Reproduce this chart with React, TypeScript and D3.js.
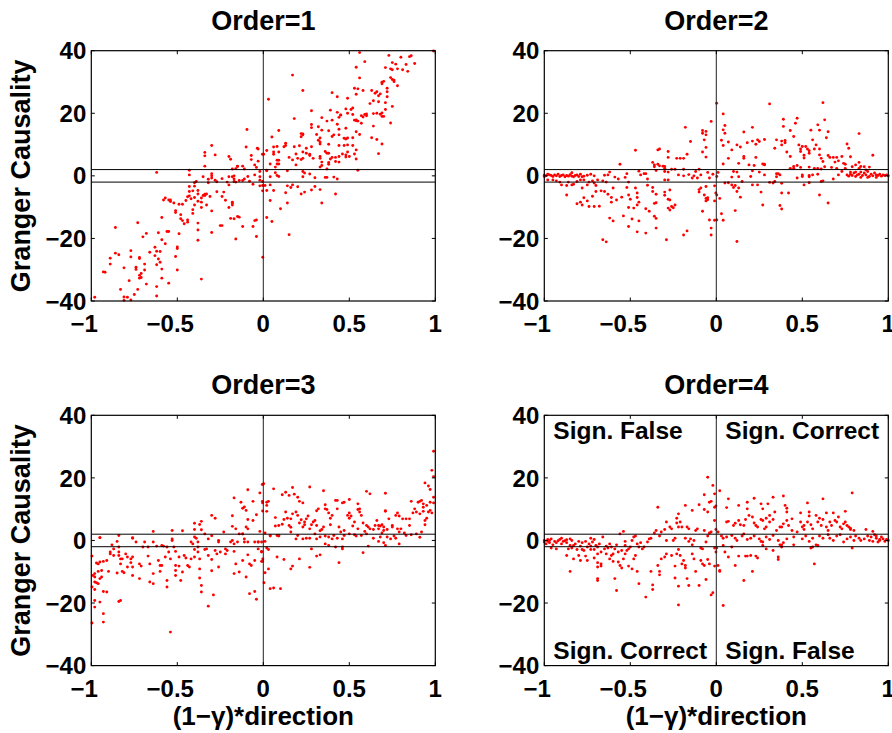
import React from "react";
import * as d3 from "d3";

// Granger causality vs (1-gamma)*direction, one array of [x, y] per model order
const order1: [number, number][] = [
  [-0.095,14.8],[-0.30,9.7],[-0.10,9.2],[-0.035,8.8],[-0.03,8.6],[-0.34,7.5],[-0.34,6.4],[-0.28,6.7],[-0.20,6.2],[-0.19,5.3],[-0.07,6.5],[-0.005,6.9],[-0.07,5.2],[-0.03,4.7],[-0.05,3.5],[-0.34,3.1],[-0.15,3.1],[-0.12,3.1],[-0.18,2.2],[-0.11,2.2],[-0.09,-0.2],[-0.05,0.3],[-0.43,1.8],[-0.43,0.3],[-0.62,1.1],[-0.30,0.7],[-0.30,0],[-0.30,-0.7],[-0.35,-0.3],[-0.32,-1.1],[-0.28,-1.4],[-0.24,-0.9],[-0.21,-2],[-0.20,-2.9],[-0.17,0],[-0.17,-1],[-0.17,-1.8],[-0.16,-2],[-0.14,-1.5],[-0.12,-1.5],[-0.11,-1],[-0.16,2.3],[-0.15,3],[-0.02,-0.3],[-0.02,-1.4],[-0.004,-1.8],[-0.004,-3.1],[-0.004,-4.8],[-0.08,-1.7],[-0.06,-2.7],[-0.40,-2.2],[-0.40,-3.3],[-0.39,-1.8],[-0.43,-3.4],[-0.43,-5],[-0.43,-6.4],[-0.41,-4.8],[-0.38,-4.7],[-0.38,-5.8],[-0.34,-5.9],[-0.34,-6.3],[-0.33,-5.8],[-0.31,-6.6],[-0.35,-6.3],[-0.36,-7.1],[-0.57,-7.1],[-0.58,-7.7],[-0.55,-7.7],[-0.54,-7.7],[-0.54,-8.2],[-0.52,-8.7],[-0.49,-9.1],[-0.47,-9.1],[-0.45,-7.9],[-0.44,-6.7],[-0.42,-7.3],[-0.40,-6.9],[-0.38,-8.1],[-0.36,-8.4],[-0.40,-9.3],[-0.33,-9.3],[-0.36,-10.1],[-0.30,-11.2],[-0.27,-5.1],[-0.24,-6.6],[-0.23,-5.2],[-0.22,-7.8],[-0.18,-8.4],[-0.18,-8.7],[-0.20,-10.1],[-0.18,-9.3],[-0.51,-11.1],[-0.51,-11.7],[-0.48,-12.4],[-0.47,-14.3],[-0.48,-13.7],[-0.44,-14.1],[-0.44,-14.8],[-0.46,-15.3],[-0.41,-10.8],[-0.41,-12],[-0.38,-15.1],[-0.38,-17.3],[-0.59,-13.3],[-0.30,-18.1],[-0.25,-15.9],[-0.24,-15.9],[-0.19,-13.6],[-0.17,-13.7],[-0.15,-13],[-0.14,-13.2],[-0.12,-16.2],[-0.05,-14.3],[-0.04,-14.1],[-0.06,-16.2],[-0.04,-19.4],[-0.16,-20.2],[-0.38,-20.6],[-0.55,-17.8],[-0.56,-17.8],[-0.61,-18.2],[-0.68,-18.4],[-0.70,-19.5],[-0.73,-15],[-0.86,-16.5],[-0.49,-18.5],[-0.59,-20.4],[-0.57,-21.7],[-0.66,-24.4],[-0.63,-22.8],[-0.62,-24.1],[-0.60,-24.2],[-0.63,-25.5],[-0.61,-26.6],[-0.60,-27.6],[-0.62,-28.4],[-0.50,-22.7],[-0.50,-23.2],[-0.51,-25.8],[-0.50,-30.1],[-0.59,-29.8],[-0.59,-32.7],[-0.55,-34.3],[-0.62,-35.4],[-0.62,-38.4],[-0.77,-23.9],[-0.77,-25.9],[-0.84,-25.2],[-0.86,-24.7],[-0.89,-26.3],[-0.89,-28.2],[-0.81,-29.4],[-0.74,-29.2],[-0.72,-26.1],[-0.72,-26.4],[-0.69,-28.2],[-0.69,-30.1],[-0.71,-31.2],[-0.72,-31.8],[-0.71,-32.5],[-0.72,-32.7],[-0.74,-29.9],[-0.68,-34.6],[-0.73,-36.3],[-0.75,-37.9],[-0.78,-33.5],[-0.83,-36.3],[-0.81,-38.7],[-0.79,-38.8],[-0.81,-39.8],[-0.77,-39.7],[-0.98,-38.8],[-0.93,-30.7],[-0.92,-30.8],[-0.36,-33],[-0.003,-26],[-0.02,1.4],[-0.02,-3.2],[-0.18,-0.3],[-0.20,-0.3],[-0.32,-2.2],[-0.27,-1.9],[-0.04,2.7],
  [0.99,39.9],[0.56,39.4],[0.73,38.5],[0.80,37.9],[0.85,38.1],[0.86,38.4],[0.88,35.9],[0.83,35.6],[0.59,36.5],[0.54,34.7],[0.75,36.2],[0.77,35.7],[0.74,34.2],[0.75,33.9],[0.78,34.2],[0.81,33.9],[0.84,33.4],[0.71,34.6],[0.56,31.3],[0.17,32.2],[0.74,31.4],[0.75,30.8],[0.76,30.1],[0.76,30.6],[0.78,28.8],[0.69,29.9],[0.70,30.2],[0.69,29.4],[0.72,28],[0.72,26.9],[0.53,28],[0.55,27.8],[0.58,27.3],[0.23,27.3],[0.40,26.6],[0.03,24.5],[0.63,27.3],[0.65,26.4],[0.66,26.9],[0.67,25.6],[0.68,26.2],[0.43,25.3],[0.49,24.8],[0.54,26.1],[0.72,25.3],[0.71,23.4],[0.67,23.7],[0.62,23.1],[0.64,24],[0.75,22.2],[0.71,21.2],[0.28,20.8],[0.39,21],[0.43,20.3],[0.45,19.5],[0.48,21.4],[0.51,21.2],[0.52,21.7],[0.49,20],[0.52,19.6],[0.53,17.8],[0.54,17.6],[0.54,17.9],[0.55,17.5],[0.57,16.8],[0.57,19.2],[0.58,18.8],[0.59,19.6],[0.60,19.2],[0.60,19.8],[0.64,19.9],[0.66,20],[0.68,19.7],[0.69,20.1],[0.69,19],[0.70,19],[0.64,15.9],[0.74,16.9],[0.34,18.6],[0.37,17.5],[0.40,17.8],[0.44,18.7],[0.45,19.4],[0.18,18.3],[0.28,16.4],[0.28,15.4],[0.32,15.7],[0.34,14.6],[0.38,14.4],[0.43,16.5],[0.44,14.9],[0.48,15.2],[0.54,14.1],[0.22,13.5],[0.23,13.1],[0.23,13.4],[0.22,12.5],[0.09,14.5],[0.05,12.4],[0.31,13.2],[0.33,12.1],[0.32,11.4],[0.33,10.8],[0.33,10.2],[0.40,12.6],[0.41,13.1],[0.44,13.1],[0.47,12],[0.48,11.8],[0.49,12.1],[0.56,13.2],[0.52,12.2],[0.63,12.2],[0.66,11.6],[0.69,10.2],[0.38,10.1],[0.44,9.7],[0.47,9.7],[0.49,9.9],[0.52,9.7],[0.54,8.3],[0.67,7.1],[0.13,9.7],[0.12,9.3],[0.13,10.4],[0.18,9.3],[0.21,9.6],[0.25,8.8],[0.28,9.3],[0.06,9.2],[0.08,9.4],[0.02,8.1],[0.06,7.6],[0.06,6.9],[0.09,7.6],[0.15,5.9],[0.17,5.1],[0.19,7],[0.20,5.6],[0.22,5.2],[0.23,7.6],[0.25,7.2],[0.27,6.5],[0.23,5.6],[0.27,6.9],[0.29,5.6],[0.36,7.8],[0.37,7.2],[0.38,7.2],[0.40,5.9],[0.42,5.9],[0.44,6.2],[0.46,7],[0.49,7.6],[0.48,6.7],[0.48,6],[0.50,6.2],[0.53,7],[0.54,5.4],[0.33,6.2],[0.33,5.6],[0.34,4.4],[0.34,3.3],[0.33,2.8],[0.38,4.3],[0.38,3.7],[0.37,2.2],[0.39,5.4],[0.42,4.6],[0.44,4.4],[0.08,5],[0.09,5],[0.08,3.8],[0.07,2.8],[0.09,3.8],[0.04,3.8],[0.02,1.8],[0.02,1.6],[0.04,-0.3],[0.08,0.1],[0.07,1],[0.09,-0.2],[0.14,1.6],[0.19,3.5],[0.23,1.4],[0.24,0.9],[0.27,0.6],[0.23,-0.3],[0.30,-0.6],[0.36,-0.5],[0.37,-0.5],[0.41,-0.4],[0.43,-1],[0.55,1.8],[0.002,6.9],[0.01,-3.1],[0.02,-4.7],[0.04,-2.9],[0.06,-4.7],[0.04,-7.9],[0.14,-3.2],[0.16,-3.7],[0.17,-2.9],[0.20,-3.5],[0.13,-5.4],[0.14,-8.7],[0.22,-5.8],[0.24,-5.2],[0.28,-4.5],[0.30,-3.4],[0.33,-4.4],[0.34,-8.7],[0.42,-5.8],[0.10,-10.5],[0.02,-13.3],[0.05,-14.6],[0.15,-18.8],
];

const order2: [number, number][] = [
  [-1.0,-0.2],[-1.0,0.2],[-0.99,0],[-0.98,0.5],[-0.97,0.3],[-0.96,0.1],[-0.95,-0.2],[-0.94,0.3],[-0.93,0],[-0.92,0.5],[-0.91,-0.2],[-0.90,0.1],[-0.89,0.3],[-0.88,-0.3],[-0.87,0.1],[-0.86,-0.1],[-0.85,0.4],[-0.84,-0.1],[-0.84,1.0],[-0.83,-0.3],[-0.82,0.1],[-0.81,0.3],[-0.80,-0.2],[-0.79,0.5],[-0.78,-0.3],[-0.77,-0.1],[-0.75,0.2],[-0.73,0.5],[-0.71,0],
  [-0.98,-1.3],[-0.95,-1.3],[-0.93,-1.6],[-0.91,-2.0],[-0.90,-2.9],[-0.87,-3.1],[-0.86,-2.0],[-0.84,-2.9],[-0.83,-2.7],[-0.81,-1.8],[-0.79,-1.3],[-0.77,-1.3],[-0.75,-2.9],[-0.74,-2.0],[-0.72,-1.6],[-0.71,-2.3],[-0.70,-3.1],[-0.69,-1.3],
  [-0.87,-6.1],[-0.81,-8.9],[-0.79,-8.4],[-0.78,-9.3],[-0.77,-7],[-0.75,-8],[-0.74,-9.8],[-0.72,-6.5],[-0.71,-9.8],[-0.68,-9.7],[-0.78,-3.9],[-0.70,-5],[-0.67,-4.8],[-0.66,-1.6],[-0.65,0.2],[-0.63,0.3],[-0.62,1.2],[-0.59,-0.4],[-0.64,-2],[-0.65,-5],[-0.63,-5.9],[-0.60,-3.9],[-0.61,-6.9],[-0.61,-8.4],[-0.58,-7.7],[-0.55,-6.8],[-0.62,-13.5],[-0.60,-14.4],[-0.54,-12.8],[-0.66,-20.4],[-0.64,-21.1],[-0.56,3.7],
  [-0.57,-1],[-0.52,0.7],[-0.53,-0.5],[-0.51,-2],[-0.52,-3.7],[-0.51,-6.1],[-0.50,-7.5],[-0.51,-10.1],[-0.47,-3.9],[-0.46,-5.5],[-0.46,-6.9],[-0.45,-8.4],[-0.46,-9.3],[-0.48,-10.3],[-0.51,-16.2],[-0.49,-13.8],[-0.45,-14.4],[-0.46,-17.9],[-0.41,-18.3],[-0.47,8.2],
  [-0.45,1.5],[-0.44,0.3],[-0.42,0.7],[-0.41,0.7],[-0.40,-1],[-0.40,-3],[-0.37,-5],[-0.37,-3.7],[-0.36,-8.8],[-0.35,-5.9],[-0.35,-8.6],[-0.36,-12.9],[-0.35,-13.6],[-0.35,-16.7],[-0.41,-10.5],[-0.39,-11.3],
  [-0.37,4.3],[-0.36,3.5],[-0.36,2.9],[-0.34,8.3],[-0.33,8.6],[-0.34,3.7],[-0.33,3.2],[-0.31,3.1],[-0.28,7.8],[-0.28,5.9],[-0.30,3],[-0.30,2.4],[-0.30,1.4],[-0.28,1.2],[-0.28,-1.3],[-0.27,-4.5],[-0.35,1.7],
  [-0.30,-1.3],[-0.30,-5.2],[-0.30,-6.2],[-0.28,-7.5],[-0.28,-10.3],[-0.27,-7.7],[-0.27,-10.9],[-0.26,-9.8],[-0.25,-10.2],[-0.24,-9.3],[-0.29,-20.4],[-0.23,5.6],[-0.21,5.6],[-0.19,5.6],[-0.17,6.9],[-0.15,11],[-0.18,15.5],
  [-0.26,2.1],[-0.24,2.1],[-0.22,0.3],[-0.19,2.1],[-0.19,0],[-0.16,0.4],[-0.14,-0.7],[-0.13,0],[-0.12,1.4],[-0.10,2.1],[-0.11,-0.7],[-0.10,-4.4],[-0.10,-5.2],[-0.09,-3.9],[-0.07,-6.1],[-0.06,-3.4],[-0.05,-7],[-0.06,-8],[-0.06,-7.2],[-0.05,-7.6],
  [-0.17,-17.6],[-0.19,-18.9],[-0.08,-11.3],[-0.04,-14.1],[-0.03,-18.9],[-0.03,-16.7],[-0.01,-14.2],
  [-0.08,13.6],[-0.08,14.5],[-0.07,11.5],[-0.06,13.1],[-0.06,14.2],[-0.06,9.1],[-0.08,7.6],[-0.06,6],[-0.03,17.4],[0.002,23.2],
  [-0.09,0.3],[-0.05,1.1],[-0.04,-0.7],[-0.02,0.5],[-0.01,-3.2],[-0.003,-5.5],[-0.01,-8],
  [0.04,19.8],[0.05,16.1],[0.04,14.7],[0.05,13.6],[0.04,9.7],[0.03,11.4],[0.07,10.8],[0.09,8.3],[0.07,5.6],[0.04,3.8],[0.01,1.1],[0.003,-0.2],[0.003,-6.1],[0.02,-7.2],[0.003,-14.1],[0.03,-12.1],[0.04,-14.2],
  [0.10,1.4],[0.12,1.2],[0.13,-0.3],[0.09,-0.4],[0.05,-2.3],[0.07,-2.2],[0.09,-2.9],[0.10,-3.7],[0.11,-3.1],[0.12,-5],[0.13,-3.9],[0.14,-6.8],[0.11,-11.1],[0.12,-21],
  [0.12,9.9],[0.14,9.2],[0.16,14],[0.16,6.2],[0.16,5.6],[0.13,4],[0.18,10.6],[0.19,3.5],[0.21,11.1],[0.21,15.5],[0.21,1.6],[0.23,5.9],[0.22,3.3],[0.23,10.1],[0.24,11.5],[0.25,11],[0.27,3.8],[0.28,11.6],[0.28,3.7],[0.28,3.5],
  [0.15,-1.8],[0.20,-0.2],[0.21,-2.9],[0.24,-2.9],[0.25,1.2],[0.26,-5.2],[0.28,0.3],[0.27,-9.3],[0.31,23],[0.34,8.8],[0.35,11.5],[0.31,-2.1],[0.33,-2.3],[0.34,-1.8],[0.35,0.7],[0.35,-0.3],[0.36,0.7],
  [0.38,9.9],[0.38,11.1],[0.39,15.8],[0.39,18.1],[0.41,7.6],[0.40,11.3],[0.40,10.6],[0.43,6.2],[0.43,14.5],[0.45,12.6],[0.46,16.8],[0.47,18.4],[0.47,3.3],[0.43,2.4],
  [0.37,0.3],[0.38,-2.4],[0.37,-9.5],[0.38,-10.6],[0.38,-5.5],[0.42,-5.5],[0.45,2.4],[0.45,3],
  [0.48,9.9],[0.49,8.6],[0.49,7.8],[0.50,9.4],[0.51,6.6],[0.51,5.7],[0.52,9.4],[0.53,8.6],[0.54,8],[0.54,7.2],[0.55,14.6],[0.56,11.5],[0.57,8.6],[0.58,9.9],[0.59,16.3],[0.60,14.6],[0.60,8.6],[0.62,23.4],[0.63,17.9],[0.64,12.2],[0.65,14.1],
  [0.47,-0.7],[0.49,2.7],[0.50,0.3],[0.50,-0.2],[0.51,-2.9],[0.54,2.8],[0.54,0.1],[0.54,-0.3],[0.54,-2.2],[0.56,0.3],[0.57,2.4],[0.59,2.4],[0.59,0.5],[0.61,2.2],[0.61,-1.8],[0.62,-1.6],[0.60,-6.1],[0.65,-8.7],
  [0.60,6.7],[0.61,5.6],[0.62,4.6],[0.63,2.9],[0.65,6.5],[0.66,5.9],[0.68,5.9],[0.70,5.9],[0.73,6.2],[0.71,4.8],[0.69,4.4],[0.67,2.7],[0.70,2.4],[0.73,1.4],
  [0.74,4],[0.75,3.7],[0.76,10.2],[0.77,8.8],[0.78,6.1],[0.79,2.9],[0.81,3.5],[0.83,4.3],[0.83,13.5],[0.83,2.4],[0.84,3],[0.86,2.9],[0.87,1.9],[0.89,2.8],[0.91,6.6],
  [0.68,-1],[0.71,0.3],[0.75,2.4],
  [0.76,0.3],[0.77,-0.1],[0.78,1.2],[0.78,0.5],[0.79,0.1],[0.80,0.9],[0.81,1.2],[0.82,0.3],[0.83,0.5],[0.84,1.2],[0.85,0.1],[0.86,0.9],[0.87,0.3],[0.88,1.4],[0.89,-0.2],[0.90,0.5],[0.91,0],[0.92,0.9],[0.93,0.3],[0.94,0.1],[0.95,0.5],[0.96,-0.1],[0.97,0.3],[0.98,0.1],[0.99,0.3],[1.0,0],[0.81,-0.2],[0.84,-0.5],[0.88,-0.5],[0.93,-0.5],
];

const order3: [number, number][] = [
  [-0.09,16.2],[-0.17,13.6],[-0.13,12.2],[-0.12,10.3],[-0.11,10.7],[-0.10,9.6],[-0.06,12.5],[-0.02,15.2],[-0.005,12.5],[-0.004,12],[-0.006,17.9],[-0.004,9.4],
  [-0.18,7.9],[-0.09,6.7],[-0.06,6.4],[-0.04,8.2],[-0.10,4.3],[-0.18,4.5],[-0.16,3.7],[-0.09,3.7],[-0.14,2.1],[-0.12,2.1],[-0.11,0.5],
  [-0.30,8],[-0.28,7.1],[-0.40,5.5],[-0.37,5.1],[-0.36,6.1],[-0.36,3.4],[-0.40,1.1],[-0.39,0.7],[-0.38,-0.5],[-0.40,3.5],[-0.47,3.1],[-0.53,3.2],[-0.64,2.9],[-0.84,1.6],[-0.95,0.9],[-0.76,0.9],
  [-0.34,2.1],[-0.30,1.5],[-0.32,0.5],[-0.26,0],[-0.23,2.7],[-0.19,-0.5],[-0.18,0],[-0.17,-1.1],[-0.15,-0.5],[-0.12,2.1],[-0.11,-0.5],[-0.09,-0.5],[-0.05,-0.5],[-0.03,-0.5],[-0.01,-0.5],[-0.02,2.9],
  [-0.996,-5.0],[-0.88,-1.4],[-0.85,-0.3],[-0.84,-2.1],[-0.87,-2.7],[-0.89,-3.7],[-0.89,-4.3],[-0.87,-4.8],[-0.84,-3.7],[-0.84,-4.8],[-0.82,-5.9],[-0.80,-4.3],[-0.79,-5.3],[-0.77,-5.9],[-0.76,-5.3],[-0.83,-5.9],[-0.83,-7.5],[-0.85,-10.4],[-0.82,-9.9],[-0.81,-10.3],[-0.79,-8.5],[-0.77,-7.1],[-0.76,-8.5],[-0.76,-11.2],[-0.72,-7.5],[-0.72,-12.2],[-0.71,-8.2],[-0.70,-2.1],[-0.69,-0.5],[-0.67,-2.1],[-0.67,-5.0],[-0.66,-7.5],[-0.66,-13.3],[-0.64,-10.6],[-0.64,-13.8],[-0.64,-0.5],[-0.62,-1.8],[-0.61,-6.4],[-0.60,-8.0],[-0.60,-9.9],[-0.59,-8.0],[-0.59,-1.6],[-0.58,-1.8],[-0.56,-2.1],[-0.57,-5.3],[-0.55,-3.7],[-0.54,-5.9],[-0.56,-12.8],[-0.56,-14.9],[-0.54,-29.3],[-0.53,0],[-0.53,0.5],
  [-0.52,-2.1],[-0.51,-3.5],[-0.51,-8.0],[-0.51,-9.6],[-0.51,-11.2],[-0.49,-5.3],[-0.49,-8.2],[-0.48,-12.8],[-0.47,-10.1],[-0.46,-4.8],[-0.45,-5.6],[-0.44,-8.0],[-0.43,-8.5],[-0.42,-0.5],[-0.42,-5.9],[-0.41,-1.1],[-0.40,-5.3],[-0.40,-2.9],[-0.38,-2.1],[-0.38,-3.7],[-0.37,-5.9],[-0.37,-9.1],[-0.37,-12.0],[-0.36,-14.4],[-0.36,-16.5],[-0.34,-2.9],[-0.33,-2.7],[-0.32,-21.0],[-0.32,-4.8],[-0.30,-6.1],[-0.30,-9.7],[-0.29,-17.4],[-0.28,-3.2],[-0.27,-4.3],[-0.26,-8.5],[-0.26,-0.5],[-0.25,-3.7],[-0.22,-2.7],[-0.22,-4.3],[-0.21,-3.2],[-0.17,-3.5],[-0.17,-10.6],[-0.16,-7.5],[-0.14,-10.1],[-0.12,-6.4],[-0.10,-11.7],[-0.09,-4.6],[-0.08,-7.5],[-0.07,-8.0],[-0.08,-17.0],[-0.05,-16.3],[-0.04,-18.8],[-0.05,-6.4],[-0.03,-2.7],[-0.01,-3.5],[-0.003,-5.9],[-0.01,-6.7],[-0.03,-0.5],
  [-0.99,-11.2],[-0.98,-10.6],[-0.98,-11.7],[-0.98,-13.3],[-0.97,-13.5],[-0.96,-13.8],[-0.96,-9.9],[-0.95,-12.2],[-0.94,-11.7],[-0.94,-9.6],[-0.93,-6.7],[-0.91,-6.4],[-0.90,-9.9],[-0.97,-7.2],[-0.96,-7.5],[-0.95,-6.9],[-0.93,-16.3],[-0.91,-16.5],[-0.98,-15.7],[-0.996,-14.9],[-0.98,-19.2],[-0.98,-21.3],[-0.95,-19.7],[-0.93,-23.4],[-0.93,-26.1],[-0.996,-26.4],[-0.84,-19.5],[-0.83,-19.2],[-0.95,0.9],[-0.76,0.7],[-0.74,-0.5],
  [0.99,28.5],[0.98,22.4],[0.99,20.4],[0.94,18.4],[0.96,17.4],[0.97,16.3],[0.99,13.8],[0.99,12],[0.98,8.8],[0.97,12.2],
  [0.002,18.1],[0.02,12.2],[0.03,12.5],[0.02,11.2],[0.02,9.3],[0.06,16.5],[0.11,14.6],[0.13,15.4],[0.15,14.4],[0.17,16.9],[0.18,14.8],[0.20,13.8],[0.21,12.5],[0.23,12],[0.27,17.1],[0.35,15.9],[0.43,12.8],[0.46,12],[0.47,12.2],[0.50,13.1],[0.55,11.7],[0.56,10.1],[0.60,15.7],[0.62,14.9],[0.71,15.1],[0.71,9.3],[0.73,6.9],
  [0.01,2.4],[0.01,-0.3],[0.04,1.6],[0.07,4.6],[0.07,7.3],[0.09,4.8],[0.08,1.6],[0.09,1.6],
  [0.11,5.2],[0.12,6.7],[0.13,9.1],[0.14,7.1],[0.15,4.8],[0.16,4.2],[0.16,6.9],[0.17,8.5],[0.19,9.1],[0.20,8.0],[0.21,5.6],[0.22,6.6],[0.23,4.3],[0.24,5.0],[0.24,5.9],[0.25,6.9],[0.26,7.8],[0.27,3.7],[0.28,5.0],[0.29,5.9],[0.30,6.4],[0.31,4.8],[0.31,9.5],[0.32,10.1],[0.33,3.1],[0.34,3.5],[0.35,4.3],[0.36,11.4],[0.36,10.1],[0.37,9.9],[0.38,8.8],[0.39,7.1],[0.39,5.0],[0.40,8.0],[0.42,12.8],[0.43,10.1],[0.44,4.3],[0.45,2.7],[0.47,3.2],[0.49,8.0],[0.50,8.8],[0.50,7.1],[0.51,7.8],[0.52,4.6],[0.53,5.9],[0.55,3.7],[0.55,9.9],[0.56,9.1],[0.57,8.0],[0.58,5.6],[0.59,2.9],[0.60,4.8],[0.61,4.3],[0.62,3.7],[0.64,3.5],[0.65,4.8],[0.66,6.4],[0.67,4.8],[0.67,3.7],[0.68,4.6],[0.69,5.0],[0.70,4.3],[0.70,3.2],[0.71,9.5],[0.72,3.5],[0.75,4.3],[0.75,4.8],[0.77,8.0],[0.78,3.7],[0.78,8.8],[0.79,7.8],[0.80,3.7],[0.81,6.9],[0.83,6.9],[0.85,4.8],[0.85,6.9],[0.86,12.5],[0.87,8.8],[0.88,10.1],[0.89,9.1],[0.90,12.2],[0.91,8.5],[0.91,12.5],[0.92,12.8],[0.93,11.7],[0.93,9.3],[0.93,10.6],[0.94,6.4],[0.95,7.1],[0.95,11.2],[0.96,9.1],[0.97,9.6],[0.92,2.7],[0.94,5.0],
  [0.04,1.4],[0.09,1.4],[0.16,2.7],[0.19,0.5],[0.20,1.6],[0.23,0.5],[0.25,0.7],[0.27,0.7],[0.30,2.1],[0.31,0.5],[0.33,1.1],[0.36,1.4],[0.38,1.1],[0.40,0.5],[0.41,1.6],[0.43,0.7],[0.46,0.5],[0.47,1.6],[0.50,2.1],[0.53,1.8],[0.54,1.4],[0.57,1.6],[0.60,2.1],[0.64,0.7],[0.67,-0.3],[0.68,1.1],[0.69,2.4],[0.70,-0.7],[0.72,1.1],[0.74,0.5],[0.76,1.4],[0.77,0.7],[0.79,-1.1],[0.83,1.6],[0.86,1.8],[0.91,1.0],[0.79,2.7],[0.82,2.4],[0.89,2.1],
  [-0.01,-3.7],[-0.004,-6.7],[0.004,-13.5],[0.01,-10.3],[0.03,-9.1],[0.02,-2.4],[0.03,-2.9],[0.04,-15.4],[0.06,-15.2],[0.10,-15.4],[0.08,-5.3],[0.12,-6.1],[0.16,-9.1],[0.17,-8.2],[0.21,-5.9],[0.27,-8.6],[0.28,-2.7],[0.31,-5.0],[0.33,-4.6],[0.36,-1.1],[0.38,-1.6],[0.42,-2.1],[0.44,-7.1],[0.46,-2.7],[0.46,-2.1],[0.58,-3.9],[0.61,-1.8],[0.71,-1.6],
];

const order4: [number, number][] = [
  [-1.0,-0.5],[-1.0,0],[-0.99,-1.1],[-0.98,0.3],[-0.98,-0.3],[-0.97,-0.7],[-0.97,0],[-0.96,0.5],[-0.95,-1.4],[-0.94,-0.3],[-0.93,-0.7],[-0.92,-0.1],[-0.91,0.3],[-0.90,0.7],[-0.90,-1.1],[-0.89,-0.3],[-0.88,-0.1],[-0.87,0.2],[-0.87,-0.7],[-0.86,-2.7],[-0.85,0.5],[-0.85,-1.6],[-0.84,0],[-0.84,-2.4],[-0.83,-1.6],[-0.82,-1.1],[-0.81,-2.9],[-0.80,-0.3],[-0.79,-1.8],[-0.78,-0.7],[-0.77,-3.2],[-0.76,-0.3],[-0.75,-2.1],[-0.74,-1.1],[-0.73,-1.8],[-0.73,0.7],[-0.72,-0.5],[-0.71,-2.9],[-0.71,0.3],[-0.70,-1.6],[-0.69,-4.3],[-0.69,-2.1],[-0.68,-1.1],[-0.67,-3.7],[-0.66,1.1],[-0.65,-2.7],[-0.64,-1.8],[-0.63,-2.4],[-0.62,-1.1],[-0.61,-2.1],[-0.60,-4.3],[-0.59,-2.7],[-0.58,-1.4],[-0.57,-3.7],[-0.56,2.1],[-0.55,-3.2],[-0.54,2.9],[-0.53,-0.3],[-0.53,-1.6],[-0.52,-3.2],[-0.51,-2.7],[-0.50,-2.1],[-0.49,0],[-0.48,1.1],[-0.47,1.4],[-0.46,-1.1],[-0.45,-2.1],[-0.44,-0.7],[-0.43,-2.7],[-0.42,-2.1],[-0.40,-0.5],[-0.39,0.5],[-0.38,0.7],[-0.36,2.4],[-0.35,3.2],[-0.33,1.4],[-0.32,2.7],[-0.30,3.5],[-0.29,0],[-0.29,5.9],[-0.27,4.3],[-0.26,3.7],[-0.25,0],[-0.24,0.7],[-0.23,5.6],[-0.22,8.5],[-0.22,4.3],[-0.21,5.9],[-0.20,4.3],[-0.18,0.7],[-0.17,4.3],[-0.16,3.7],[-0.16,-0.3],[-0.15,0.5],[-0.14,-1.4],[-0.13,0],[-0.12,3.2],[-0.11,3.7],[-0.10,11.4],[-0.09,-2.4],[-0.08,-2.7],[-0.07,3.2],[-0.06,-0.5],[-0.05,20.2],[-0.05,1.4],[-0.04,2.4],[-0.03,2.7],[-0.03,12.5],[-0.02,17.6],[-0.01,6.4],[-0.01,14.9],[-0.002,3.5],[-0.002,11.0],
  [-0.96,-2.4],[-0.93,-2.7],[-0.87,-4.8],[-0.85,-9.9],[-0.83,-5.9],[-0.80,-4.8],[-0.79,-6.4],[-0.78,-2.9],[-0.76,-5.0],[-0.75,-6.4],[-0.73,-2.9],[-0.71,-5.6],[-0.69,-7.1],[-0.69,-8.5],[-0.67,-7.5],[-0.67,-8.2],[-0.69,-12.2],[-0.69,-12.8],[-0.64,-4.3],[-0.62,-5.9],[-0.61,-4.8],[-0.60,-6.7],[-0.59,-12.2],[-0.58,-16.0],[-0.57,-6.9],[-0.56,-8.0],[-0.55,-8.8],[-0.54,-5.9],[-0.53,-4.3],[-0.51,-8.2],[-0.49,-9.1],[-0.48,-5.9],[-0.47,-4.8],[-0.46,-9.9],[-0.45,-13.8],[-0.41,-18.1],[-0.38,-9.9],[-0.37,-14.2],[-0.37,-15.7],[-0.34,-8.0],[-0.33,-9.9],[-0.33,-11.0],[-0.32,-5.9],[-0.30,-5.3],[-0.29,-4.3],[-0.26,-4.8],[-0.24,-8.2],[-0.24,-12.0],[-0.23,-4.3],[-0.22,-14.6],[-0.22,-20.6],[-0.22,-2.9],[-0.21,-4.8],[-0.20,-7.5],[-0.19,-6.4],[-0.18,-8.0],[-0.18,-8.8],[-0.17,-12.2],[-0.16,-14.4],[-0.14,-4.3],[-0.13,-5.9],[-0.12,-9.9],[-0.10,-14.4],[-0.09,-6.4],[-0.08,-7.5],[-0.07,-8.0],[-0.06,-12.5],[-0.05,-6.1],[-0.04,-7.5],[-0.03,-17.4],[-0.02,-16.7],[-0.01,-8.2],[-0.002,-3.7],[-0.01,-2.4],
  [-0.34,10.6],[-0.23,7.1],[-0.18,11.2],[-0.14,9.6],[-0.07,14.6],[-0.07,9.9],[-0.05,9.1],[-0.04,12.2],[-0.01,10.6],
  [0.02,15.9],[0.07,13.3],[0.06,10.5],[0.13,11.2],[0.18,12.2],[0.22,13.5],[0.26,11.7],[0.27,10.1],[0.30,11.7],[0.33,13.8],[0.34,9.1],[0.39,14.2],[0.40,11.2],[0.41,10.3],[0.41,9.1],[0.44,6.9],[0.53,12.0],[0.54,9.1],[0.62,13.3],[0.75,9.3],[0.79,15.2],
  [0.06,5.9],[0.07,6.1],[0.10,4.8],[0.11,5.5],[0.13,6.4],[0.14,5.0],[0.16,4.8],[0.17,6.7],[0.18,10.1],[0.19,8.0],[0.21,7.5],[0.22,5.6],[0.23,4.8],[0.24,4.3],[0.26,6.7],[0.27,6.4],[0.28,3.7],[0.29,7.1],[0.29,4.3],[0.31,8.0],[0.31,5.9],[0.33,6.7],[0.35,3.2],[0.37,4.3],[0.38,4.3],[0.39,5.3],[0.41,6.4],[0.42,4.8],[0.44,3.2],[0.49,8.8],[0.49,5.9],[0.50,4.3],[0.51,4.8],[0.51,3.5],[0.53,5.9],[0.54,7.8],[0.55,5.0],[0.56,3.7],[0.58,8.0],[0.59,5.9],[0.60,7.1],[0.61,4.8],[0.62,6.7],[0.64,4.3],[0.64,8.8],[0.65,3.2],[0.66,5.9],[0.67,4.8],[0.68,8.8],[0.69,6.4],[0.70,5.9],[0.71,7.5],[0.72,4.3],[0.73,3.7],[0.74,5.3],[0.75,5.9],[0.76,4.8],[0.77,4.3],[0.78,3.5],[0.78,3.9],[0.80,3.2],
  [0.01,2.7],[0.03,1.4],[0.04,0.7],[0.06,1.1],[0.09,1.6],[0.11,0.7],[0.12,0],[0.15,1.4],[0.16,2.1],[0.18,0.3],[0.20,0.7],[0.22,1.4],[0.25,0.5],[0.27,-0.5],[0.29,1.1],[0.31,0.3],[0.33,1.6],[0.36,0],[0.38,-1.4],[0.39,-0.7],[0.41,0.5],[0.45,1.1],[0.47,2.7],[0.50,0.5],[0.52,1.4],[0.54,-0.3],[0.56,0.7],[0.58,-1.4],[0.60,1.4],[0.62,0.7],[0.65,1.8],[0.66,0.7],[0.68,0],[0.70,1.4],[0.72,1.8],[0.74,-0.5],[0.76,0.5],[0.78,1.1],[0.79,-2.4],[0.80,0],[0.81,1.4],[0.83,0.7],[0.84,0],[0.86,0.5],[0.87,3.5],[0.88,1.4],[0.89,0],[0.90,1.1],[0.91,2.9],[0.91,-0.3],[0.93,0.7],[0.93,1.4],[0.95,0.3],[0.95,0],[0.96,1.1],[0.97,0.5],[0.98,-0.3],[0.99,0.3],[1.0,0],[0.94,-0.5],[0.92,1.8],
  [0.002,-2.4],[0.01,-8.0],[0.02,-9.6],[0.02,-9.9],[0.04,-1.6],[0.05,-3.7],[0.07,-5.3],[0.09,-2.1],[0.11,-8.0],[0.13,-5.0],[0.16,-12.8],[0.17,-5.0],[0.18,-5.0],[0.20,-4.8],[0.21,-9.9],[0.23,-5.0],[0.24,-5.6],[0.26,-0.3],[0.27,-1.6],[0.29,-2.7],[0.33,-3.2],[0.36,-5.3],[0.36,-6.1],[0.37,-1.4],[0.38,-2.1],[0.45,-1.4],[0.55,-2.4],[0.56,-2.1],[0.57,-7.5],[0.59,-1.6],[0.04,-20.8],
];

const xTicks = [-1, -0.5, 0, 0.5, 1];
const yTicks = [-40, -20, 0, 20, 40];
const bandLines = [2, -2];
const titles = ["Order=1", "Order=2", "Order=3", "Order=4"];
const quadrantNotes = ["Sign. False", "Sign. Correct", "Sign. Correct", "Sign. False"];

const FONT = "'Liberation Sans', Arial, Helvetica, sans-serif";
const PW = 344;
const PH = 250.3;
const COLS = [91.3, 544.3];
const ROWS = [50.7, 415.3];
const TICK_FS = 24;
const LABEL_FS = 27;

const minus = "\u2212";
const fmt = (v: number) => (v < 0 ? minus : "") + String(Math.abs(v));
// width of the digit part only (Arial bold metrics) so the minus hangs to the left
const digitsWidth = (v: number) =>
  String(Math.abs(v))
    .split("")
    .reduce((s, c) => s + (c === "." ? 0.278 : 0.556), 0) * TICK_FS;

type PanelProps = {
  data: [number, number][];
  left: number;
  top: number;
  title: string;
  yLabel: boolean;
  xLabel: boolean;
  notes?: string[];
};

function Panel({ data, left, top, title, yLabel, xLabel, notes }: PanelProps) {
  const x = d3.scaleLinear().domain([-1, 1]).range([left, left + PW]);
  const y = d3.scaleLinear().domain([-40, 40]).range([top + PH, top]);
  const tl = 3.5;

  return (
    <g fontFamily={FONT} fontWeight="bold">
      <text x={x(0)} y={top - 21} textAnchor="middle" fontSize={LABEL_FS}>
        {title}
      </text>

      {data.map((d, i) => (
        <circle key={i} cx={x(d[0])} cy={y(d[1])} r={1.45} fill="#ff0000" />
      ))}

      {bandLines.map((v) => (
        <line key={v} x1={left} x2={left + PW} y1={y(v)} y2={y(v)} stroke="#000" strokeWidth={1} />
      ))}
      <line x1={x(0)} x2={x(0)} y1={top} y2={top + PH} stroke="#222" strokeWidth={1} />

      <rect x={left} y={top} width={PW} height={PH} fill="none" stroke="#000" strokeWidth={1.2} />

      {xTicks.map((v) => (
        <g key={"x" + v}>
          <line x1={x(v)} x2={x(v)} y1={top + PH} y2={top + PH - tl} stroke="#000" />
          <line x1={x(v)} x2={x(v)} y1={top} y2={top + tl} stroke="#000" />
          <text x={x(v) + digitsWidth(v) / 2} y={top + PH + 31} textAnchor="end" fontSize={TICK_FS}>
            {fmt(v)}
          </text>
        </g>
      ))}
      {yTicks.map((v) => (
        <g key={"y" + v}>
          <line x1={left} x2={left + tl} y1={y(v)} y2={y(v)} stroke="#000" />
          <line x1={left + PW} x2={left + PW - tl} y1={y(v)} y2={y(v)} stroke="#000" />
          <text x={left - 5} y={y(v)} dy="0.36em" textAnchor="end" fontSize={TICK_FS}>
            {fmt(v)}
          </text>
        </g>
      ))}

      {yLabel && (
        <text
          transform={`translate(30,${top + PH / 2}) rotate(-90)`}
          textAnchor="middle"
          fontSize={LABEL_FS}
        >
          Granger Causality
        </text>
      )}
      {xLabel && (
        <text x={x(0)} y={725} textAnchor="middle" fontSize={26}>
          (1{minus}γ)*direction
        </text>
      )}

      {notes && (
        <g fontSize={24.5}>
          <text x={left + 9} y={top + 24}>{notes[0]}</text>
          <text x={x(0) + 9} y={top + 24}>{notes[1]}</text>
          <text x={left + 9} y={top + PH - 7}>{notes[2]}</text>
          <text x={x(0) + 9} y={top + PH - 7}>{notes[3]}</text>
        </g>
      )}
    </g>
  );
}

export default function App() {
  const series = [order1, order2, order3, order4];
  return (
    <svg
      width={892}
      height={733}
      style={{ position: "absolute", left: 0, top: 0, background: "#fff" }}
    >
      <rect width={892} height={733} fill="#fff" />
      {series.map((data, i) => (
        <Panel
          key={i}
          data={data}
          left={COLS[i % 2]}
          top={ROWS[Math.floor(i / 2)]}
          title={titles[i]}
          yLabel={i % 2 === 0}
          xLabel={i >= 2}
          notes={i === 3 ? quadrantNotes : undefined}
        />
      ))}
    </svg>
  );
}
